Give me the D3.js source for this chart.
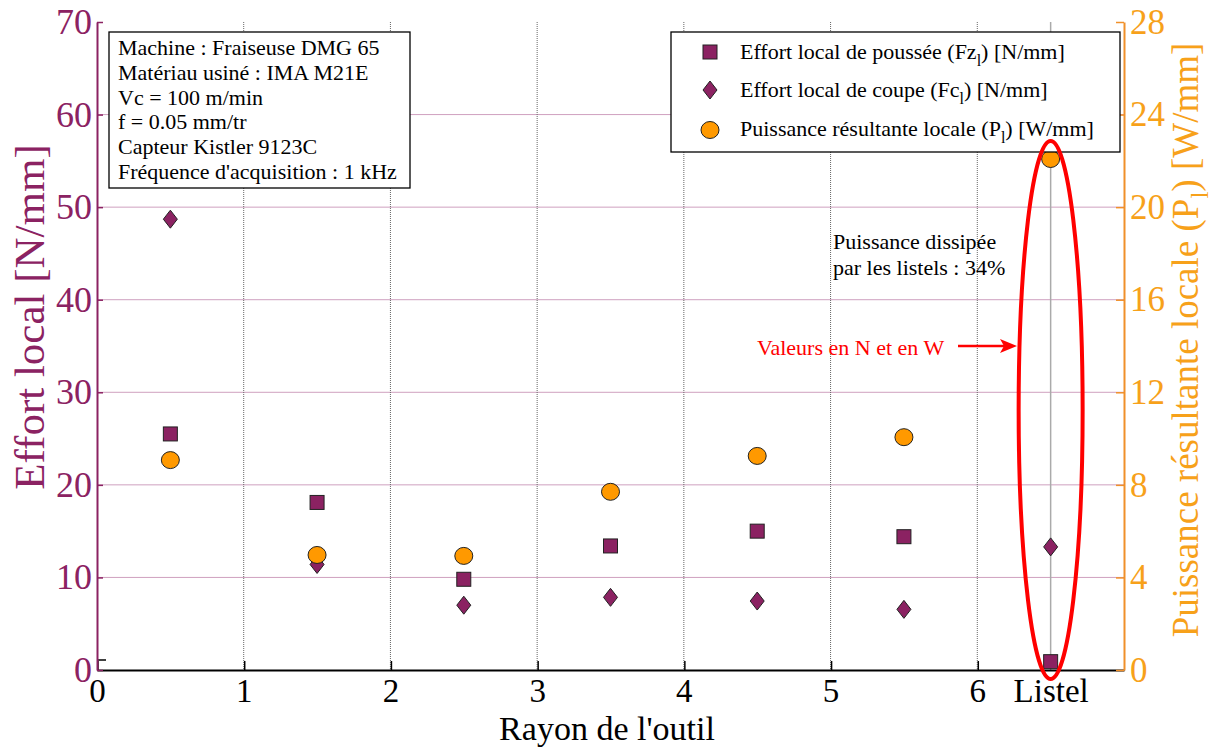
<!DOCTYPE html>
<html><head><meta charset="utf-8">
<script src="https://cdn.jsdelivr.net/npm/d3@7"></script>
<style>
body{margin:0;background:#fff;}
svg text{font-family:"Liberation Serif","Times New Roman",serif;}
</style>
</head><body>
<svg id="chart" width="1215" height="749"></svg>
<script>
const categories = [0.5, 1.5, 2.5, 3.5, 4.5, 5.5, 6.5];
const fzValues = [25.5, 18.1, 9.8, 13.4, 15.0, 14.4, 0.9];
const fcValues = [48.7, 11.4, 7.0, 7.85, 7.45, 6.55, 13.3];
const plValues = [9.07, 4.97, 4.93, 7.7, 9.25, 10.06, 22.08];
const xTickValues = [0, 1, 2, 3, 4, 5, 6, 6.5];
const xTickLabels = ["0", "1", "2", "3", "4", "5", "6", "Listel"];
const yLeftTicks = [0, 10, 20, 30, 40, 50, 60, 70];
const yRightTicks = [0, 4, 8, 12, 16, 20, 24, 28];
const infoLines = ["Machine : Fraiseuse DMG 65", "Matériau usiné : IMA M21E", "Vc = 100 m/min", "f  = 0.05 mm/tr", "Capteur Kistler 9123C", "Fréquence d'acquisition : 1 kHz"];

const purple = "#8B2262", orange = "#FF9900", axOrange = "#F0902A", lblOrange = "#F7A11A";
const svg = d3.select("#chart");
const L = 97, R = 1124, T = 22, B = 670;
const x = d3.scaleLinear().domain([0, 7]).range([L, R]);
const yL = d3.scaleLinear().domain([0, 70]).range([B, T]);
const yR = d3.scaleLinear().domain([0, 28]).range([B, T]);

// grid
const g = svg.append("g");
g.selectAll("line.hg").data(yLeftTicks.filter(d => d > 0 && d < 70)).join("line")
  .attr("x1", L).attr("x2", R).attr("y1", d => yL(d)).attr("y2", d => yL(d))
  .attr("stroke", "#CFA0BF").attr("stroke-width", 1);
g.selectAll("line.vg").data([1, 2, 3, 4, 5, 6, 6.5]).join("line")
  .attr("x1", d => x(d)).attr("x2", d => x(d)).attr("y1", T).attr("y2", B)
  .attr("stroke", d => d === 6.5 ? "#aaa" : "#666").attr("stroke-width", d => d === 6.5 ? 1.5 : 1)
  .attr("stroke-dasharray", d => d === 6.5 ? null : "1,1");

// axes
const xAxis = svg.append("g").attr("transform", `translate(0,${B})`)
  .call(d3.axisBottom(x).tickValues(xTickValues).tickFormat((d, i) => xTickLabels[i]).tickSize(0));
xAxis.select(".domain").attr("stroke", "#000").attr("stroke-width", 2);
xAxis.selectAll("text").attr("font-size", 33).attr("fill", "#000").attr("font-family", "Liberation Serif")
  .attr("y", 32).attr("dy", 0);
svg.append("g").selectAll("line").data([0, 1, 2, 3, 4, 5, 6]).join("line")
  .attr("x1", d => x(d) + 1).attr("x2", d => x(d) + 1).attr("y1", B).attr("y2", B - 9)
  .attr("stroke", "#000").attr("stroke-width", 1.5);
svg.append("line").attr("x1", x(0)+1).attr("x2", x(0)+9).attr("y1", B-10).attr("y2", B-10).attr("stroke","#000").attr("stroke-width",1.5);

const yAxisL = svg.append("g").attr("transform", `translate(${L},0)`)
  .call(d3.axisLeft(yL).tickValues(yLeftTicks).tickSizeInner(-6).tickSizeOuter(0).tickPadding(5));
yAxisL.select(".domain").attr("stroke", purple).attr("stroke-width", 2);
yAxisL.selectAll(".tick line").attr("stroke", purple).attr("stroke-width", 1.5);
yAxisL.selectAll("text").attr("font-size", 36).attr("fill", purple).attr("font-family", "Liberation Serif");

const yAxisR = svg.append("g").attr("transform", `translate(${R},0)`)
  .call(d3.axisRight(yR).tickValues(yRightTicks).tickSizeInner(-8).tickSizeOuter(0).tickPadding(6));
yAxisR.select(".domain").attr("stroke", axOrange).attr("stroke-width", 2);
yAxisR.selectAll(".tick line").attr("stroke", axOrange).attr("stroke-width", 1.5);
yAxisR.selectAll("text").attr("font-size", 35).attr("fill", lblOrange).attr("font-family", "Liberation Serif");

// axis titles
svg.append("text").attr("transform", `translate(44,317) rotate(-90)`)
  .attr("text-anchor", "middle").attr("font-size", 43).attr("fill", purple).text("Effort local [N/mm]");
const rt = svg.append("text").attr("transform", `translate(1198,340) rotate(-90)`)
  .attr("text-anchor", "middle").attr("font-size", 37).attr("fill", lblOrange);
rt.append("tspan").text("Puissance résultante locale (P");
rt.append("tspan").attr("font-size", 25).attr("dy", 10).text("l");
rt.append("tspan").attr("dy", -10).text(") [W/mm]");
svg.append("text").attr("x", 607).attr("y", 740).attr("text-anchor", "middle")
  .attr("font-size", 34).attr("fill", "#000").text("Rayon de l'outil");

// markers
const pts = svg.append("g");
pts.selectAll("rect.fz").data(categories).join("rect")
  .attr("x", (d) => x(d) - 7).attr("y", (d, i) => yL(fzValues[i]) - 7)
  .attr("width", 14).attr("height", 14).attr("fill", purple).attr("stroke", "#222").attr("stroke-width", 1);
const diamond = (cx, cy) => `M${cx},${cy - 9}L${cx + 7},${cy}L${cx},${cy + 9}L${cx - 7},${cy}Z`;
pts.selectAll("path.fc").data(categories).join("path")
  .attr("d", (d, i) => diamond(x(d), yL(fcValues[i])))
  .attr("fill", purple).attr("stroke", "#222").attr("stroke-width", 1);
pts.selectAll("ellipse.pl").data(categories).join("ellipse")
  .attr("cx", d => x(d)).attr("cy", (d, i) => yR(plValues[i]))
  .attr("rx", 9).attr("ry", 8.5).attr("fill", orange).attr("stroke", "#222").attr("stroke-width", 1);

// info box
svg.append("rect").attr("x", 109).attr("y", 32).attr("width", 301).attr("height", 156)
  .attr("fill", "#fff").attr("stroke", "#000").attr("stroke-width", 1.3);
svg.append("g").selectAll("text").data(infoLines).join("text")
  .attr("x", 118).attr("y", (d, i) => 55 + i * 24.8).attr("font-size", 22).attr("fill", "#000").text(d => d);

// legend
svg.append("rect").attr("x", 671).attr("y", 32).attr("width", 449).attr("height", 120)
  .attr("fill", "#fff").attr("stroke", "#000").attr("stroke-width", 1.3);
const lg = svg.append("g");
lg.append("rect").attr("x", 703).attr("y", 45).attr("width", 14).attr("height", 14).attr("fill", purple).attr("stroke", "#222");
lg.append("path").attr("d", diamond(710, 90)).attr("fill", purple).attr("stroke", "#222");
lg.append("ellipse").attr("cx", 710).attr("cy", 130).attr("rx", 9).attr("ry", 8.5).attr("fill", orange).attr("stroke", "#222");
function legText(y, a, sub, b) {
  const t = lg.append("text").attr("x", 740).attr("y", y).attr("font-size", 22).attr("fill", "#000");
  t.append("tspan").text(a);
  t.append("tspan").attr("font-size", 16).attr("dy", 7).text(sub);
  t.append("tspan").attr("dy", -7).text(b);
}
legText(59, "Effort local de poussée (Fz", "l", ") [N/mm]");
legText(97, "Effort local de coupe (Fc", "l", ") [N/mm]");
legText(136, "Puissance résultante locale (P", "l", ")  [W/mm]");

// annotations
svg.append("text").attr("x", 833).attr("y", 249).attr("font-size", 22).attr("fill", "#000").text("Puissance dissipée");
svg.append("text").attr("x", 833).attr("y", 275).attr("font-size", 22).attr("fill", "#000").text("par les listels : 34%");
svg.append("text").attr("x", 757).attr("y", 355).attr("font-size", 22).attr("fill", "#FF0000").text("Valeurs en N et en W");
svg.append("ellipse").attr("cx", x(6.5)).attr("cy", 410).attr("rx", 32).attr("ry", 269)
  .attr("fill", "none").attr("stroke", "#FF0000").attr("stroke-width", 4);
svg.append("line").attr("x1", 958).attr("x2", 1008).attr("y1", 346).attr("y2", 346).attr("stroke", "#FF0000").attr("stroke-width", 2.5);
svg.append("path").attr("d", "M1017,346L1000,339L1004,346L1000,353Z").attr("fill", "#FF0000");
</script>
</body></html>
